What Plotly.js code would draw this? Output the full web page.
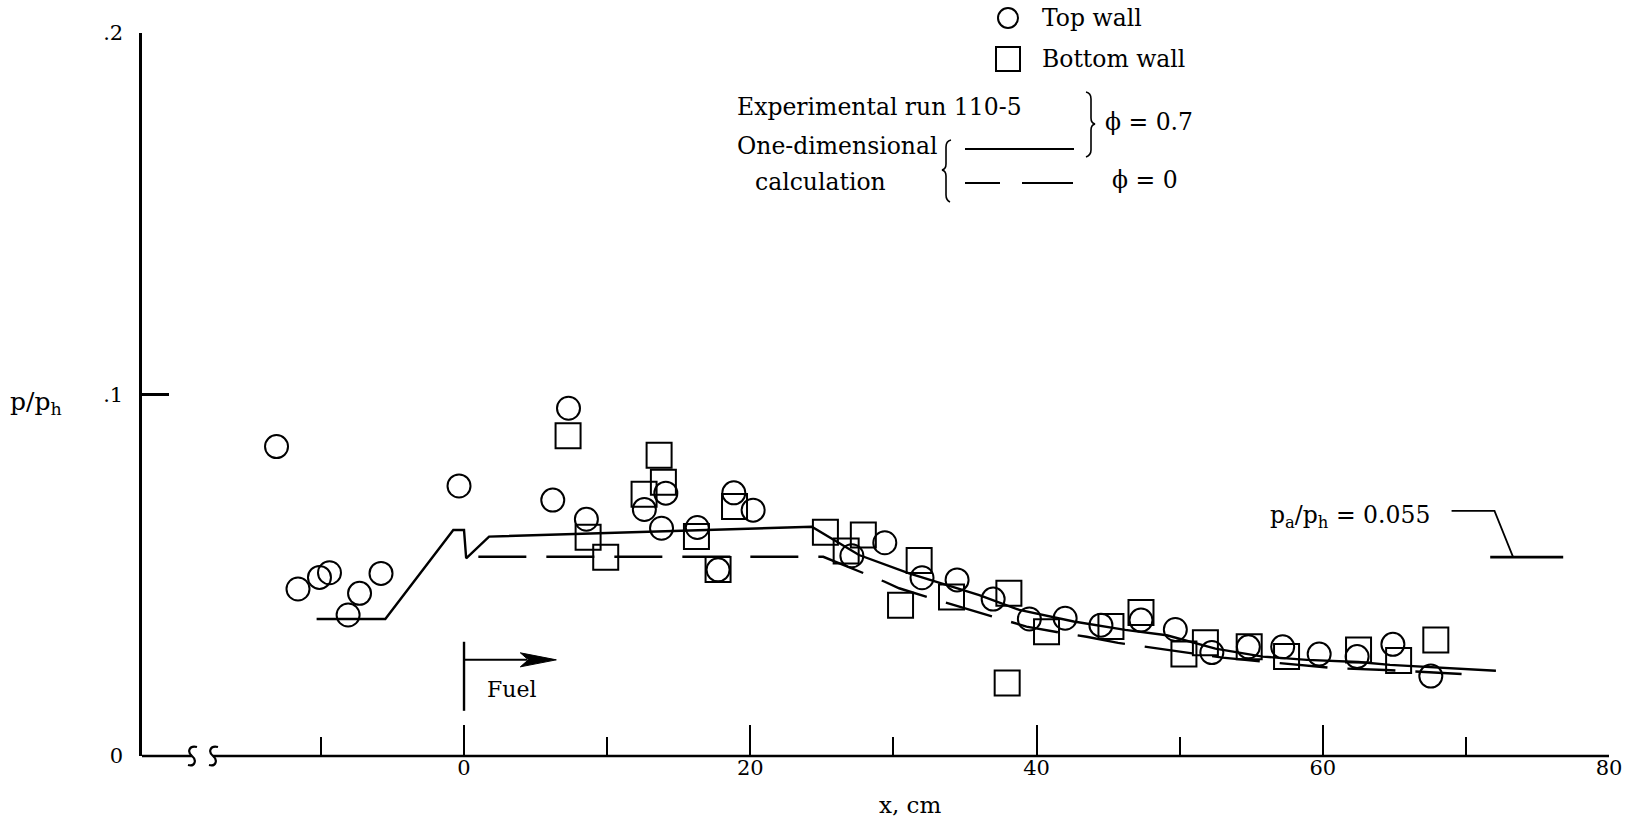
<!DOCTYPE html>
<html>
<head>
<meta charset="utf-8">
<script src="https://cdn.plot.ly/plotly-3.0.1.min.js"></script>
<style>
  html, body { margin: 0; padding: 0; background: #fff; }
  #chart { width: 1635px; height: 823px; }
</style>
</head>
<body>
<div id="chart"></div>
<script>
// Wall static-pressure ratio p/p_h along the combustor, run 110-5.

// Top-wall taps
const topWallX = [-13.1, -11.6, -10.1, -9.4, -8.1, -7.3, -5.8, -0.35, 6.2, 7.3,
                  8.55, 12.6, 13.8, 14.1, 16.3, 17.75, 18.85, 20.2, 27.1, 29.4,
                  32.0, 34.45, 36.97, 39.5, 42.0, 44.5, 47.3, 49.7, 52.25, 54.8,
                  57.2, 59.75, 62.4, 64.9, 67.55];
const topWallP = [0.0856, 0.0462, 0.0494, 0.0507, 0.0390, 0.0450, 0.0505, 0.0747, 0.0708, 0.0962,
                  0.0655, 0.0682, 0.0630, 0.0727, 0.0632, 0.0515, 0.0728, 0.0680, 0.0554, 0.0590,
                  0.0493, 0.0487, 0.0434, 0.0379, 0.0381, 0.0362, 0.0376, 0.0350, 0.0286, 0.0302,
                  0.0302, 0.0282, 0.0275, 0.0309, 0.0221];

// Bottom-wall taps
const bottomWallX = [7.27, 8.67, 9.9, 12.58, 13.63, 13.93, 16.24, 17.75, 18.9, 25.25,
                     26.7, 27.9, 30.5, 31.8, 34.06, 37.95, 38.07, 40.7, 45.2, 47.3,
                     50.3, 51.8, 54.86, 57.47, 62.5, 65.3, 67.9];
const bottomWallP = [0.0886, 0.0605, 0.0550, 0.0724, 0.0832, 0.0757, 0.0607, 0.0516, 0.0690, 0.0619,
                     0.0567, 0.0611, 0.0417, 0.0541, 0.0440, 0.0202, 0.0450, 0.0344, 0.0358, 0.0397,
                     0.0282, 0.0313, 0.0302, 0.0275, 0.0293, 0.0264, 0.0321];

// One-dimensional calculation, phi = 0.7
const calcPhi07X = [-10.3, -5.5, -0.75, 0, 0.15, 1.75, 24.3, 27.6, 31.1, 36.0,
                    38.8, 42.6, 46.2, 49.1, 52.5, 55.8, 58.9, 62.5, 64.7, 72.1];
const calcPhi07P = [0.0379, 0.0379, 0.0625, 0.0625, 0.0547, 0.0607, 0.0634, 0.0556, 0.0505, 0.0445,
                    0.0404, 0.0372, 0.0349, 0.0334, 0.0297, 0.0275, 0.0266, 0.0260, 0.0252, 0.0236];

// One-dimensional calculation, phi = 0
const calcPhi0X = [1.0, 25.1, 29.4, 30.4, 33.0, 36.2, 39.3, 41.8, 43.5, 45.7,
                   49.3, 53.0, 57.0, 60.8, 64.4, 69.7];
const calcPhi0P = [0.0551, 0.0551, 0.0482, 0.0464, 0.0432, 0.0395, 0.0358, 0.0340, 0.0330, 0.0313,
                   0.0293, 0.0272, 0.0257, 0.0243, 0.0238, 0.0227];

const xTickVals = [0, 20, 40, 60, 80];
const xTickText = ['0', '20', '40', '60', '80'];
const xMinorTickVals = [-10, 10, 30, 50, 70];
const yTickVals = [0, 0.1, 0.2];
const yTickText = ['0', '.1', '.2'];
const ambientRatio = 0.055;
const fuelStation = 0;

// ---- geometry helpers -------------------------------------------------
const W = 1635, H = 823;
const M = { l: 142, r: 26, t: 33, b: 67 };
const PW = W - M.l - M.r, PH = H - M.t - M.b;
const px = X => (X - M.l) / PW;            // page pixel -> paper x
const py = Y => (H - M.b - Y) / PH;        // page pixel -> paper y
function paperPath(segs) {
  return segs.map(s => s[0] + ' ' + s.slice(1)
    .map(p => px(p[0]).toFixed(5) + ',' + py(p[1]).toFixed(5)).join(' ')).join(' ');
}

const FONT = 'DejaVu Serif, Liberation Serif, serif';
const INK = '#000';
const TXT = 23.5;

// ---- traces -----------------------------------------------------------
const traces = [
  {
    x: calcPhi07X, y: calcPhi07P, type: 'scatter', mode: 'lines',
    line: { color: INK, width: 2.4 }, hoverinfo: 'skip'
  },
  {
    x: calcPhi0X, y: calcPhi0P, type: 'scatter', mode: 'lines',
    line: { color: INK, width: 2.4, dash: '48px,20px' }, hoverinfo: 'skip'
  },
  {
    x: topWallX, y: topWallP, type: 'scatter', mode: 'markers', name: 'Top wall',
    marker: { symbol: 'circle-open', size: 23, color: INK, line: { color: INK, width: 2 } }
  },
  {
    x: bottomWallX, y: bottomWallP, type: 'scatter', mode: 'markers', name: 'Bottom wall',
    marker: { symbol: 'square-open', size: 25, color: INK, line: { color: INK, width: 2 } }
  }
];

// ---- decorations ------------------------------------------------------
const shapes = [];
const line = (x0, y0, x1, y1, w, ref) => ({
  type: 'line', xref: ref || 'x', yref: ref || 'y', x0, y0, x1, y1,
  line: { color: INK, width: w || 2.4 }
});

// x-axis with a scale break near the origin
shapes.push({ type: 'line', xref: 'paper', yref: 'paper', x0: 0, x1: px(192), y0: 0, y1: 0,
              line: { color: INK, width: 2.6 } });
shapes.push({ type: 'line', xref: 'paper', yref: 'paper', x0: px(213), x1: 1, y0: 0, y1: 0,
              line: { color: INK, width: 2.6 } });
[192, 213].forEach(cx => {
  shapes.push({
    type: 'path', xref: 'paper', yref: 'paper',
    path: paperPath([
      ['M', [cx + 5, 747]],
      ['C', [cx - 3, 745], [cx - 5, 752], [cx, 756]],
      ['C', [cx + 5, 760], [cx + 3, 767], [cx - 4, 765]]
    ]),
    line: { color: INK, width: 2.2 }
  });
});

// fuel injection station and arrow
shapes.push(line(fuelStation, 0.0125, fuelStation, 0.0316, 2.4));
shapes.push(line(fuelStation, 0.0266, 4.4, 0.0266, 2));
shapes.push({
  type: 'path', xref: 'x', yref: 'y', xsizemode: 'pixel', ysizemode: 'pixel',
  xanchor: 6.45, yanchor: 0.0266,
  path: 'M 0,0 L -36,7 L -28,0 L -36,-7 Z',
  fillcolor: INK, line: { color: INK, width: 1 }
});

// ambient-pressure level with leader
shapes.push(line(71.7, ambientRatio, 76.8, ambientRatio, 2.6));
shapes.push({
  type: 'path', xref: 'x', yref: 'y',
  path: `M 69.0,0.0678 L 72.0,0.0678 L 73.3,${ambientRatio}`,
  line: { color: INK, width: 1.8 }
});

// key: symbols
shapes.push({ type: 'circle', xref: 'paper', yref: 'paper',
              x0: px(998), x1: px(1018), y0: py(28), y1: py(8),
              line: { color: INK, width: 2 } });
shapes.push({ type: 'rect', xref: 'paper', yref: 'paper',
              x0: px(996), x1: px(1020), y0: py(71), y1: py(47),
              line: { color: INK, width: 2 } });
// key: line samples
shapes.push({ type: 'line', xref: 'paper', yref: 'paper',
              x0: px(965), x1: px(1074), y0: py(149), y1: py(149),
              line: { color: INK, width: 2.2 } });
shapes.push({ type: 'line', xref: 'paper', yref: 'paper',
              x0: px(965), x1: px(1000), y0: py(183), y1: py(183),
              line: { color: INK, width: 2.2 } });
shapes.push({ type: 'line', xref: 'paper', yref: 'paper',
              x0: px(1022), x1: px(1073), y0: py(183), y1: py(183),
              line: { color: INK, width: 2.2 } });
// key: braces
shapes.push({
  type: 'path', xref: 'paper', yref: 'paper',
  path: paperPath([
    ['M', [951, 140]], ['Q', [946, 141], [946, 147]], ['L', [946, 164]],
    ['Q', [946, 169], [942, 170]], ['Q', [946, 171], [946, 176]], ['L', [946, 195]],
    ['Q', [946, 200], [950, 202]]
  ]),
  line: { color: INK, width: 1.6 }
});
shapes.push({
  type: 'path', xref: 'paper', yref: 'paper',
  path: paperPath([
    ['M', [1086, 92]], ['Q', [1091, 93], [1091, 99]], ['L', [1091, 118]],
    ['Q', [1091, 123], [1095, 124]], ['Q', [1091, 125], [1091, 130]], ['L', [1091, 150]],
    ['Q', [1091, 155], [1086, 157]]
  ]),
  line: { color: INK, width: 1.6 }
});

// ---- text -------------------------------------------------------------
const txt = (text, X, Y, size, anchor) => ({
  text, xref: 'paper', yref: 'paper', x: px(X), y: py(Y),
  xanchor: anchor || 'left', yanchor: 'middle', showarrow: false,
  font: { family: FONT, size: size || TXT, color: INK }
});

const annotations = [
  txt('Top wall', 1040, 18),
  txt('Bottom wall', 1040, 59),
  txt('Experimental run 110-5', 735, 107),
  txt('One-dimensional', 735, 146),
  txt('calculation', 753, 182),
  txt('\u03D5 = 0.7', 1103, 122),
  txt('\u03D5 = 0', 1110, 180),
  txt('p/p<sub>h</sub>', 8, 403, 25),
  txt('x, cm', 910, 805, 23, 'center'),
  {
    text: 'Fuel', xref: 'x', yref: 'y', x: 1.45, y: 0.0185,
    xanchor: 'left', yanchor: 'middle', showarrow: false,
    font: { family: FONT, size: 22, color: INK }
  },
  {
    text: 'p<sub>a</sub>/p<sub>h</sub> = ' + ambientRatio.toFixed(3), xref: 'x', yref: 'y',
    x: 56.2, y: 0.0662, xanchor: 'left', yanchor: 'middle', showarrow: false,
    font: { family: FONT, size: TXT, color: INK }
  }
];

// ---- layout -----------------------------------------------------------
const layout = {
  width: W, height: H,
  margin: M,
  paper_bgcolor: '#fff', plot_bgcolor: '#fff',
  showlegend: false,
  font: { family: FONT, color: INK, size: 21 },
  xaxis: {
    range: [-22.5, 80],
    showline: false, showgrid: false, zeroline: false,
    tickmode: 'array', tickvals: xTickVals, ticktext: xTickText,
    ticks: 'inside', ticklen: 31, tickwidth: 2, tickcolor: INK,
    minor: { tickmode: 'array', tickvals: xMinorTickVals, ticks: 'inside',
             ticklen: 19, tickwidth: 2, tickcolor: INK, showgrid: false },
    tickfont: { family: FONT, size: 21, color: INK },
    ticklabelstandoff: -3
  },
  yaxis: {
    range: [0, 0.2],
    showline: true, linecolor: INK, linewidth: 2.6,
    showgrid: false, zeroline: false,
    tickmode: 'array', tickvals: yTickVals, ticktext: yTickText,
    ticks: 'inside', ticklen: 27, tickwidth: 2.4, tickcolor: INK,
    tickfont: { family: FONT, size: 21, color: INK },
    ticklabelstandoff: 12
  },
  shapes, annotations
};

Plotly.newPlot('chart', traces, layout, { displayModeBar: false, staticPlot: true });
</script>
</body>
</html>
